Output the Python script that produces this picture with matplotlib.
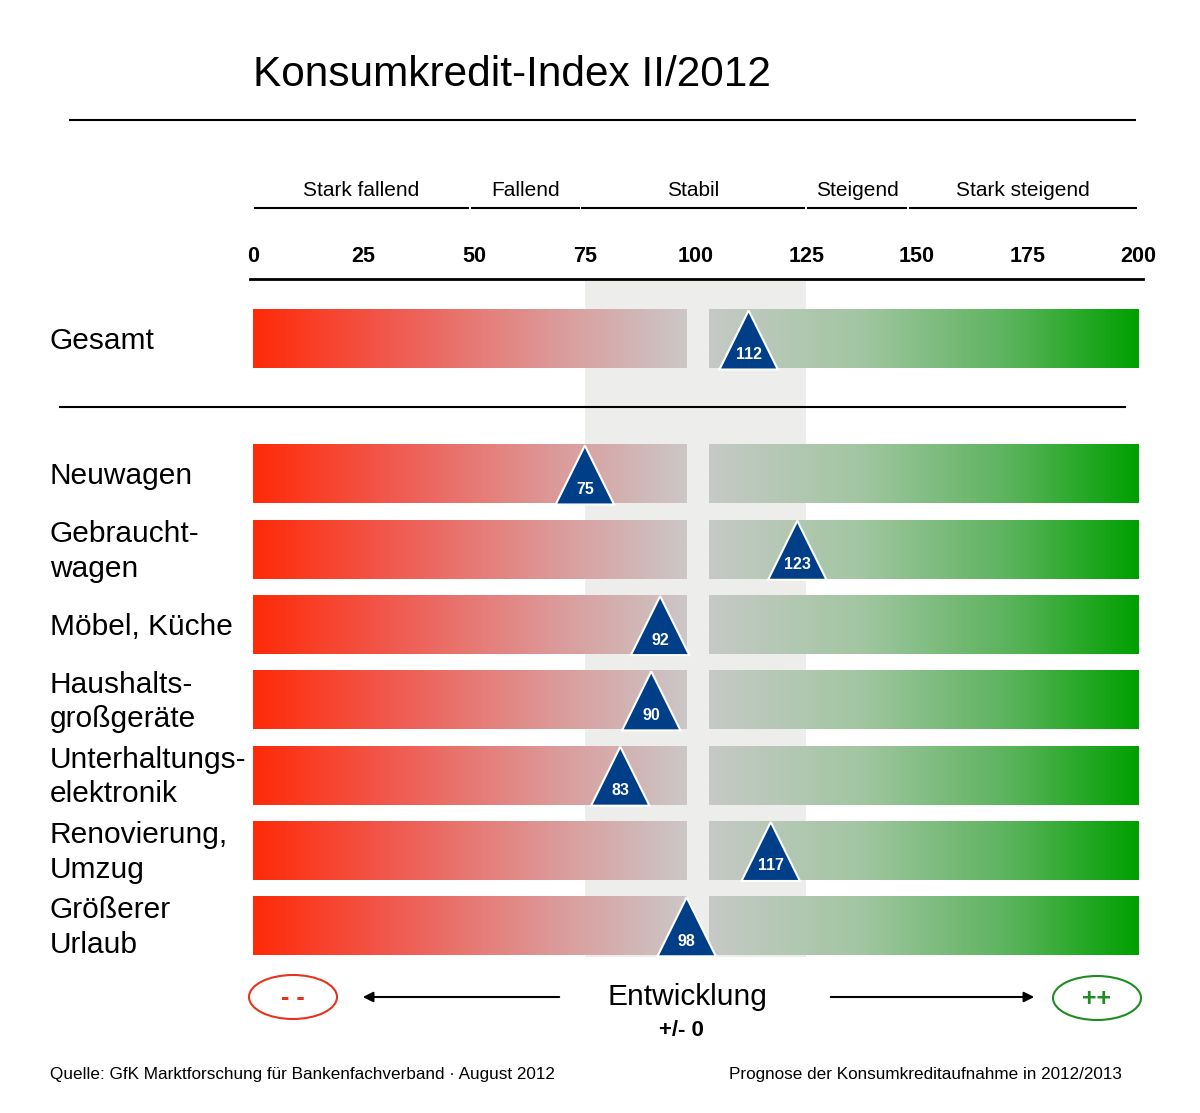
import numpy as np
import matplotlib
matplotlib.use("Agg")
import matplotlib.pyplot as plt
from matplotlib.colors import LinearSegmentedColormap
from matplotlib.patches import Polygon, Rectangle, Ellipse

plt.rcParams['font.family'] = ['Liberation Sans', 'DejaVu Sans']

# Daten
title = "Konsumkredit-Index II/2012"
categories = ["Gesamt", "Neuwagen", "Gebraucht-\nwagen", "Möbel, Küche",
              "Haushalts-\ngroßgeräte", "Unterhaltungs-\nelektronik",
              "Renovierung,\nUmzug", "Größerer\nUrlaub"]
values = [112, 75, 123, 92, 90, 83, 117, 98]
ticks = [0, 25, 50, 75, 100, 125, 150, 175, 200]
zones = ["Stark fallend", "Fallend", "Stabil", "Steigend", "Stark steigend"]
zone_edges = [0, 49, 74, 125, 148, 200]
stable_range = (75, 125)
gap = (98, 103)

# Layout (Pixel -> Datenkoordinaten)
W, H = 1200, 1113
X0, SCALE = 253, 4.425


def X(px):
    return (px - X0) / SCALE


fig = plt.figure(figsize=(W / 100, H / 100), dpi=100)
ax = fig.add_axes([0, 0, 1, 1])
ax.axis('off')

row_y = [339] + [474 + 75.3 * i for i in range(len(categories) - 1)]
bar_h = 59

# grauer Stabil-Bereich
ax.add_patch(Rectangle((stable_range[0], 281), stable_range[1] - stable_range[0], 676,
                       facecolor='#ededeb', edgecolor='none', zorder=0))

cmap_red = LinearSegmentedColormap.from_list(
    'red', [(0, '#ff2a08'), (0.35, '#ef5e55'), (0.7, '#dc9a9a'), (1, '#cbc7c7')])
cmap_green = LinearSegmentedColormap.from_list(
    'green', [(0, '#c6c9c6'), (0.35, '#a2c6a2'), (0.7, '#5bb35c'), (1, '#00a000')])
grad = np.linspace(0, 1, 256).reshape(1, -1)

for cat, val, y in zip(categories, values, row_y):
    top, bot = y - bar_h / 2, y + bar_h / 2
    ax.imshow(grad, extent=[0, gap[0], bot, top], cmap=cmap_red, aspect='auto', zorder=1)
    ax.imshow(grad, extent=[gap[1], 200, bot, top], cmap=cmap_green, aspect='auto', zorder=1)
    tri = Polygon([(val, top + 1), (val - 6.6, bot + 1), (val + 6.6, bot + 1)],
                  closed=True, facecolor='#003f87', edgecolor='white', lw=1.5, zorder=3)
    ax.add_patch(tri)
    ax.text(val, bot - 14, str(val), color='white', fontsize=11.5, fontweight='bold',
            ha='center', va='center', zorder=4)
    ax.text(X(50), y + 2, cat, fontsize=21.5, ha='left', va='center', linespacing=1.3)

# Titel und Linien
ax.text(X(253), 75, title, fontsize=30.5, ha='left', va='center')
ax.plot([X(70), X(1135)], [120, 120], color='black', lw=1.5)
ax.plot([X(60), X(1125)], [407, 407], color='black', lw=1.5)
ax.plot([X(250), X(1143)], [279, 279], color='black', lw=2)

for i, z in enumerate(zones):
    a, b = zone_edges[i], zone_edges[i + 1]
    ax.plot([a + 0.4, b - 0.4], [208, 208], color='black', lw=1.5)
    ax.text((a + b) / 2, 190, z, fontsize=15, ha='center', va='center')

for t in ticks:
    ax.text(t, 256, str(t), fontsize=15.5, fontweight='bold', ha='center', va='center')

# Entwicklung
ax.add_patch(Ellipse((X(293), 997), 88 / SCALE, 44, facecolor='none',
                     edgecolor='#e8321e', lw=1.5))
ax.text(X(293), 998, "- -", color='#e8321e', fontsize=18, fontweight='bold',
        ha='center', va='center')
ax.add_patch(Ellipse((X(1097), 998), 88 / SCALE, 44, facecolor='none',
                     edgecolor='#1e8c1e', lw=1.5))
ax.text(X(1097), 999, "++", color='#1e8c1e', fontsize=18, fontweight='bold',
        ha='center', va='center')
ax.annotate("", xy=(X(360), 997), xytext=(X(562), 997),
            arrowprops=dict(arrowstyle='-|>', color='black', lw=1.5, mutation_scale=15))
ax.annotate("", xy=(X(1037), 997), xytext=(X(828), 997),
            arrowprops=dict(arrowstyle='-|>', color='black', lw=1.5, mutation_scale=15))
ax.text(X(687), 997, "Entwicklung", fontsize=21.5, ha='center', va='center')
ax.text(X(681), 1030, "+/- 0", fontsize=16, fontweight='bold', ha='center', va='center')

# Fußzeile
ax.text(X(50), 1074, "Quelle: GfK Marktforschung für Bankenfachverband · August 2012",
        fontsize=12.3, ha='left', va='center')
ax.text(X(1122), 1074, "Prognose der Konsumkreditaufnahme in 2012/2013",
        fontsize=12.3, ha='right', va='center')

ax.set_xlim(X(0), X(W))
ax.set_ylim(H, 0)
fig.savefig("out.png", dpi=100, facecolor='white')
